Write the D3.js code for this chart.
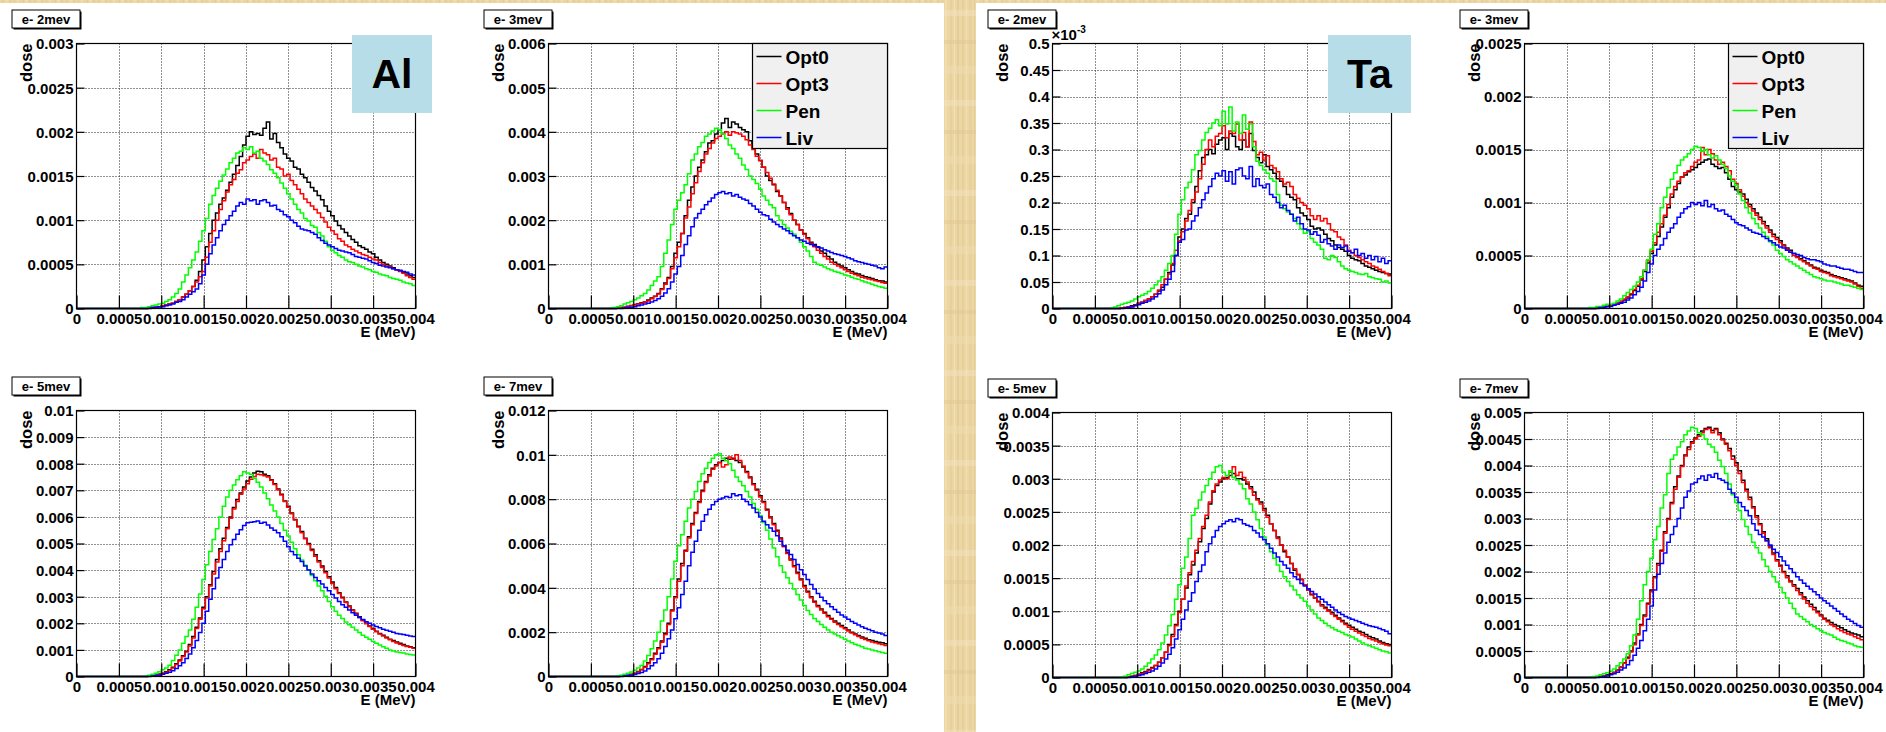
<!DOCTYPE html>
<html><head><meta charset="utf-8">
<script src="https://cdn.jsdelivr.net/npm/d3@7/dist/d3.min.js"></script>
<style>
html,body{margin:0;padding:0;background:#fff;}
svg{display:block;}
text{font-family:"Liberation Sans",Arial,Helvetica,sans-serif;font-weight:bold;fill:#000;}
</style></head><body>
<svg id="c" width="1886" height="732"></svg>
<script>
// ---------------- DATA ----------------
// Histograms: 100 bins over 0..0.004 MeV. Each array lists bin contents from the first
// non-empty bin up to the last bin (earlier bins are empty). Units given in panelUnits.
const seriesNames = ["Opt0", "Opt3", "Pen", "Liv"];
const xTickLabels = ["0","0.0005","0.001","0.0015","0.002","0.0025","0.003","0.0035","0.004"];
const panelTitles = ["e- 2mev","e- 3mev","e- 2mev","e- 3mev","e- 5mev","e- 7mev","e- 5mev","e- 7mev"];
const panelUnits  = [1e-5, 1e-5, 1e-6, 1e-5, 1e-5, 1e-5, 1e-5, 1e-5];
const yTickLabels = [
  ["0","0.0005","0.001","0.0015","0.002","0.0025","0.003"],
  ["0","0.001","0.002","0.003","0.004","0.005","0.006"],
  ["0","0.05","0.1","0.15","0.2","0.25","0.3","0.35","0.4","0.45","0.5"],
  ["0","0.0005","0.001","0.0015","0.002","0.0025"],
  ["0","0.001","0.002","0.003","0.004","0.005","0.006","0.007","0.008","0.009","0.01"],
  ["0","0.002","0.004","0.006","0.008","0.01","0.012"],
  ["0","0.0005","0.001","0.0015","0.002","0.0025","0.003","0.0035","0.004"],
  ["0","0.0005","0.001","0.0015","0.002","0.0025","0.003","0.0035","0.004","0.0045","0.005"]
];
const yLabelFactor = [1, 1, 1e-3, 1, 1, 1, 1, 1];
const panelTags = ["Al", null, "Ta", null, null, null, null, null];
const panelLegend = [false, true, false, true, false, false, false, false];

// Al, e- 2 MeV (x1e-5)
const al2_opt0 = [1,1,2,2,3,4,5,6,8,10,13,16,20,25,32,42,55,70,85,100,108,118,125,134,143,152,162,172,185,195,200,197,198,196,204,211,192,198,188,182,175,170,167,160,158,152,148,143,137,133,128,123,116,110,105,99,94,90,86,82,78,75,71,69,67,64,62,58,55,52,50,48,46,44,43,41,39,37,35];
const al2_opt3 = [1,1,2,2,3,4,5,6,8,10,13,16,20,25,30,36,42,58,75,88,100,112,122,132,140,146,153,157,165,168,172,175,170,180,176,174,168,170,160,158,150,152,145,140,135,130,124,120,116,112,108,103,98,92,88,84,79,76,72,70,67,65,63,61,60,58,56,55,52,50,48,47,45,44,42,40,37,35,33];
const al2_pen  = [1,1,2,3,4,5,6,8,10,13,17,22,30,38,46,55,64,76,88,102,118,128,136,144,151,158,165,170,176,178,182,180,183,176,178,170,167,163,157,153,148,142,136,130,124,118,112,108,102,99,94,92,86,82,76,70,66,63,60,58,55,53,52,50,48,47,45,44,42,41,39,38,37,35,34,33,32,30,29,28,26];
const al2_liv  = [1,1,2,2,3,4,5,7,8,10,13,16,19,22,28,38,50,62,72,80,88,95,100,105,110,116,120,118,124,122,123,118,122,123,120,116,117,112,110,106,104,100,97,93,90,89,88,86,84,80,77,74,72,70,68,66,65,64,63,61,59,58,57,56,54,52,51,49,48,47,46,45,44,43,42,41,39,38];

// Al, e- 3 MeV (x1e-5)
const al3_opt0 = [1,2,3,5,7,9,11,13,15,19,24,28,34,45,58,70,95,125,150,170,210,245,275,300,320,336,355,375,380,395,405,420,430,410,422,418,410,405,400,380,365,350,335,320,300,290,280,265,255,240,228,215,200,190,178,170,160,150,145,138,130,125,118,112,105,100,96,92,88,84,80,78,75,72,70,68,65,63,62,60];
const al3_opt3 = [1,2,3,4,6,8,10,12,14,17,22,27,33,43,55,68,90,115,140,170,205,230,260,285,310,330,350,362,375,385,390,395,400,392,400,398,395,390,382,370,360,345,335,320,308,295,282,268,255,240,225,212,200,190,178,168,158,148,140,132,125,118,112,105,100,96,92,88,84,80,77,74,71,69,67,65,63,61,59,57];
const al3_pen  = [1,2,4,6,10,13,16,20,24,29,34,42,52,62,72,95,125,155,190,225,245,262,280,305,336,350,366,376,390,395,402,408,405,395,385,370,362,350,340,325,315,300,292,283,270,255,245,235,228,210,200,190,182,175,168,160,150,140,130,118,105,100,98,94,90,87,84,82,79,76,74,71,68,66,63,60,58,55,52,50,48,46];
const al3_liv  = [1,2,3,4,6,8,10,12,15,18,22,28,35,45,60,78,95,120,145,165,185,205,215,225,235,242,250,258,262,265,260,262,255,258,252,248,245,238,232,225,218,212,210,202,196,190,185,180,176,170,165,160,155,152,148,145,142,140,137,133,130,127,124,122,120,118,115,112,108,106,104,102,100,98,96,92,90,94];

// Ta, e- 2 MeV (x1e-6)
const ta2_opt0 = [1,2,3,5,7,10,12,15,18,22,27,33,40,55,68,82,100,135,150,170,178,200,230,260,285,290,300,292,310,318,322,300,330,325,305,300,318,305,330,298,285,275,290,268,262,255,245,240,230,215,210,205,190,180,175,168,155,150,152,148,140,132,128,120,115,112,108,100,95,92,90,85,80,78,75,72,70,68,66,65];
const ta2_opt3 = [1,2,3,4,6,9,12,15,18,22,27,35,45,55,65,85,110,128,145,165,185,205,220,245,272,300,318,305,325,330,345,322,335,330,348,318,332,305,352,315,290,295,280,288,270,265,258,245,235,238,230,215,208,200,195,188,175,168,175,165,170,160,148,145,135,130,120,110,105,100,96,92,88,85,80,78,74,70,66,62];
const ta2_pen  = [1,3,5,8,10,12,14,18,22,25,28,32,38,45,52,60,72,85,100,140,178,205,228,238,262,290,298,318,332,340,350,356,345,372,348,380,335,352,330,365,338,348,305,278,270,262,255,245,240,215,195,188,182,178,170,160,150,142,145,132,125,120,112,95,92,100,96,88,80,75,72,70,68,65,64,66,60,58,56,55,50,52,48];
const ta2_liv  = [1,2,3,5,7,10,12,14,18,22,28,35,45,55,70,100,125,130,148,150,165,175,190,205,218,230,245,255,250,260,240,258,235,262,265,250,245,268,230,245,232,228,235,215,210,200,190,195,185,178,165,172,160,150,148,140,145,138,125,130,122,118,112,120,115,118,108,105,112,100,104,95,100,92,98,88,95,85,90];

// Ta, e- 3 MeV (x1e-5)
const ta3_opt0 = [1,1,2,2,3,4,5,6,8,10,13,17,21,27,35,43,52,60,68,77,86,95,105,112,118,124,126,129,131,133,136,138,140,141,136,134,132,133,128,122,115,112,110,108,103,98,94,90,86,82,78,74,70,67,64,60,57,55,52,49,47,45,43,41,39,38,36,35,34,32,31,30,29,28,27,26,24,22,21];
const ta3_opt3 = [1,1,2,2,3,4,5,7,9,11,14,18,22,28,36,45,54,62,72,80,88,98,108,115,120,124,128,130,134,138,140,152,145,150,146,140,136,138,134,130,122,118,112,106,100,96,92,88,84,80,76,72,68,65,62,59,56,53,50,48,46,44,42,40,38,37,35,34,33,31,30,29,28,27,26,25,23,21,19];
const ta3_pen  = [1,1,2,2,3,4,4,5,7,9,12,15,18,21,25,30,36,46,56,70,80,95,105,114,122,128,135,140,143,146,150,153,152,148,150,145,142,144,140,136,132,125,120,116,108,102,95,90,85,80,76,72,68,63,60,55,52,49,46,44,42,40,38,36,34,32,30,29,28,27,26,26,25,24,23,22,22,21,20,19,18];
const ta3_liv  = [1,1,2,2,3,4,5,6,8,10,13,16,20,26,34,42,50,56,60,66,72,76,80,86,90,94,96,100,98,100,97,102,96,98,94,92,93,89,87,84,81,79,78,76,74,72,71,70,68,66,64,62,60,58,57,55,53,52,51,50,48,47,46,46,45,44,42,41,40,40,39,38,37,37,36,35,34,34];

// Al, e- 5 MeV (x1e-5)
const al5_opt0 = [2,4,6,9,12,18,25,35,48,62,78,95,120,150,185,220,260,300,345,395,440,480,520,560,600,635,665,690,712,735,750,765,772,770,760,755,740,725,705,685,660,640,615,590,565,545,520,500,478,458,435,415,395,375,355,335,315,298,280,265,250,238,225,212,200,190,180,170,162,155,148,140,135,130,125,120,115,112,108];
const al5_opt3 = [2,3,5,8,11,16,23,32,45,58,75,92,115,145,180,215,255,295,340,385,430,470,510,555,595,630,658,685,705,725,742,752,760,758,755,750,738,722,702,682,658,636,612,588,562,540,518,496,474,452,430,410,390,370,350,330,312,295,278,262,248,235,222,210,198,188,178,168,160,152,145,138,132,126,121,117,113,110,106];
const al5_pen  = [2,5,8,12,18,25,32,42,60,80,100,125,150,175,215,260,310,365,420,470,515,555,600,640,675,700,720,740,755,770,765,760,745,730,712,690,668,645,622,600,575,550,528,505,480,458,438,418,400,380,360,340,322,302,282,262,245,230,218,205,195,185,175,165,155,148,140,132,125,118,112,106,100,96,92,90,88,85,83,81];
const al5_liv  = [2,3,5,8,12,16,22,30,40,52,68,85,108,135,165,200,245,290,330,370,410,440,470,495,515,535,552,568,578,580,582,585,576,580,570,558,550,540,525,508,488,470,458,445,432,415,400,385,372,360,348,335,322,308,295,282,270,260,250,240,230,222,214,206,200,194,188,183,178,174,170,166,162,160,158,155,152,150];

// Al, e- 7 MeV (x1e-5)
const al7_opt0 = [2,4,6,10,15,22,32,45,62,80,105,130,160,195,240,300,360,440,510,570,630,690,740,790,840,880,910,940,955,965,975,985,980,985,975,965,945,925,900,870,845,815,790,755,720,690,660,625,590,560,530,500,470,440,410,385,360,340,320,305,290,275,262,250,240,230,220,210,200,192,185,178,172,166,162,158,155,152,148];
const al7_opt3 = [2,3,5,9,14,20,30,42,58,76,100,125,155,190,235,295,355,430,500,565,625,685,735,785,835,875,905,935,950,965,945,955,990,980,1000,975,950,920,895,865,840,810,785,750,715,685,655,620,585,555,525,495,465,435,405,380,355,335,315,300,285,270,258,245,235,225,215,205,196,188,180,173,167,161,156,152,148,144,140];
const al7_pen  = [3,6,10,15,20,28,38,50,70,95,125,160,200,250,300,360,440,520,590,640,700,760,800,835,880,915,940,965,985,1000,1005,985,975,960,930,900,880,860,835,810,780,755,725,695,660,620,580,540,500,470,445,420,395,370,345,320,298,280,262,248,235,222,210,200,192,184,176,168,160,152,146,140,134,128,124,120,116,112,108,105];
const al7_liv  = [2,4,6,9,13,18,25,35,48,62,80,105,135,170,210,260,310,370,430,500,560,610,660,700,730,755,775,790,800,805,812,808,825,815,820,800,790,775,760,740,720,700,685,670,655,635,610,590,570,550,528,505,482,460,438,415,395,375,358,342,328,315,302,290,278,268,258,248,240,232,225,218,212,206,200,196,192,185];

// Ta, e- 5 MeV (x1e-5)
const ta5_opt0 = [1,2,3,5,7,9,12,15,18,23,30,38,50,65,80,100,118,135,155,170,188,205,225,240,262,280,290,295,300,302,305,308,300,300,298,292,288,280,270,265,255,245,232,222,212,200,190,182,172,162,155,148,140,132,125,120,115,110,106,102,98,94,90,86,82,79,76,73,70,68,65,62,60,58,55,53,51,50];
const ta5_opt3 = [1,2,3,4,6,8,11,14,18,23,30,38,48,62,78,98,118,138,158,175,192,210,228,245,265,282,292,298,302,300,310,318,305,310,302,295,285,275,268,262,252,242,232,222,210,200,192,182,172,164,156,148,140,132,126,120,114,108,104,100,96,92,88,84,80,76,73,70,67,64,62,59,57,55,53,51,49,48];
const ta5_pen  = [1,2,4,6,8,10,13,17,22,28,34,42,52,64,78,95,118,140,165,182,210,245,255,268,280,290,300,310,318,320,310,305,312,302,298,292,285,270,262,250,238,225,212,200,190,180,170,160,152,145,138,132,125,120,115,108,102,96,90,86,82,78,75,72,70,68,65,63,61,58,55,52,50,48,46,44,42,40,39,37];
const ta5_liv  = [1,2,3,4,6,8,10,13,17,22,28,35,45,58,72,88,102,115,128,145,160,170,190,202,212,222,228,232,236,238,235,240,238,232,230,228,222,218,212,208,202,195,188,182,175,170,165,158,152,148,142,138,134,130,126,122,118,114,110,106,102,98,95,92,90,88,86,84,82,80,78,77,76,74,72,70,66];

// Ta, e- 7 MeV (x1e-5)
const ta7_opt0 = [1,2,3,5,7,10,14,20,28,38,50,65,82,100,118,140,165,190,215,240,275,300,330,360,380,400,420,435,445,452,458,465,470,472,466,470,462,450,442,432,418,405,390,372,355,340,322,305,290,275,262,248,235,222,212,200,192,182,175,168,160,152,145,138,132,125,118,112,108,104,100,97,94,90,87,84,82,80,77];
const ta7_opt3 = [1,2,3,4,6,9,13,19,27,36,48,62,80,98,115,138,162,188,212,238,272,298,328,355,378,398,418,430,442,450,455,462,468,470,462,468,458,448,440,428,412,400,385,368,352,336,320,302,288,272,258,245,232,220,210,198,188,180,172,164,156,148,140,134,128,122,116,110,105,100,96,92,88,85,82,80,77,74,71];
const ta7_pen  = [1,2,3,5,7,9,12,16,22,28,35,45,60,80,110,145,175,200,225,260,285,320,345,385,412,420,435,445,458,465,472,470,462,458,450,440,435,425,410,398,385,365,345,330,315,298,285,270,255,245,235,222,210,200,190,180,170,160,150,140,130,120,115,110,105,100,96,92,88,85,82,80,76,72,70,68,65,63,60,58,57];
const ta7_liv  = [1,2,3,5,7,10,14,18,24,32,42,55,70,88,110,135,165,195,215,235,255,270,285,300,320,340,352,365,368,375,380,372,382,378,385,375,372,368,355,348,340,330,322,315,305,290,278,270,265,258,250,242,236,228,220,212,205,198,190,184,178,172,167,162,156,150,145,140,135,130,125,120,115,110,106,102,98,95];

const panelSeries = [
  [al2_opt0, al2_opt3, al2_pen, al2_liv],
  [al3_opt0, al3_opt3, al3_pen, al3_liv],
  [ta2_opt0, ta2_opt3, ta2_pen, ta2_liv],
  [ta3_opt0, ta3_opt3, ta3_pen, ta3_liv],
  [al5_opt0, al5_opt3, al5_pen, al5_liv],
  [al7_opt0, al7_opt3, al7_pen, al7_liv],
  [ta5_opt0, ta5_opt3, ta5_pen, ta5_liv],
  [ta7_opt0, ta7_opt3, ta7_pen, ta7_liv]
];
const nBins = 100;
const xMax = 0.004;

// ---------------- LAYOUT / STYLE ----------------
const seriesColors = ["#000000", "#ff0000", "#00ff00", "#0000ff"];
const frames = [
  {l:76.5,  r:415.5,  t:43.5,  b:308.5},
  {l:548.5, r:887.5,  t:43.5,  b:308.5},
  {l:1052.5,r:1391.5, t:43.5,  b:308.5},
  {l:1524.5,r:1863.5, t:43.5,  b:308.5},
  {l:76.5,  r:415.5,  t:410.5, b:676.5},
  {l:548.5, r:887.5,  t:410.5, b:676.5},
  {l:1052.5,r:1391.5, t:412.5, b:677.5},
  {l:1524.5,r:1863.5, t:412.5, b:677.5}
];

const svg = d3.select("#c");
const defs = svg.append("defs");
const pat = defs.append("pattern").attr("id","wood").attr("patternUnits","userSpaceOnUse")
  .attr("width",32).attr("height",90);
pat.append("rect").attr("width",32).attr("height",90).attr("fill","#ebd6a4");
[[2,2,"#e2c993"],[6,1,"#f3e4bf"],[9,3,"#e5cd98"],[14,1,"#dfc58d"],[17,2,"#f1e0b6"],[22,2,"#e4cb95"],[26,1,"#f4e6c3"],[29,2,"#e0c68f"]]
  .forEach(s => pat.append("rect").attr("x",s[0]).attr("y",0).attr("width",s[1]).attr("height",90).attr("fill",s[2]).attr("opacity",0.6));
[[10,6,"#f4e6c2"],[40,4,"#e0c68e"],[66,8,"#f0dfb3"]]
  .forEach(s => pat.append("rect").attr("x",0).attr("y",s[0]).attr("width",32).attr("height",s[1]).attr("fill",s[2]).attr("opacity",0.4));

svg.append("rect").attr("x",0).attr("y",0).attr("width",1886).attr("height",732).attr("fill","#fff");
svg.append("rect").attr("x",0).attr("y",0).attr("width",1886).attr("height",3).attr("fill","url(#wood)");
svg.append("rect").attr("x",944).attr("y",0).attr("width",32).attr("height",732).attr("fill","url(#wood)");

const xTicks = xTickLabels.map(Number);

panelSeries.forEach((series, p) => {
  const f = frames[p];
  const yLabels = yTickLabels[p];
  const yTicks = yLabels.map(s => Number(s) * yLabelFactor[p]);
  const yMax = yTicks[yTicks.length - 1];
  const x = d3.scaleLinear().domain([0, xMax]).range([f.l, f.r]);
  const y = d3.scaleLinear().domain([0, yMax]).range([f.b, f.t]);
  const g = svg.append("g");

  // grid
  const grid = g.append("g").attr("stroke","#222").attr("stroke-width",1).attr("stroke-dasharray","1 2");
  xTicks.slice(1, -1).forEach(v => grid.append("line").attr("x1",Math.round(x(v))+0.5).attr("x2",Math.round(x(v))+0.5).attr("y1",f.t).attr("y2",f.b));
  yTicks.slice(1, -1).forEach(v => grid.append("line").attr("x1",f.l).attr("x2",f.r).attr("y1",Math.round(y(v))+0.5).attr("y2",Math.round(y(v))+0.5));

  // histograms
  const binW = xMax / nBins;
  const line = d3.line().x(d => x(d[0])).y(d => y(d[1]));
  series.forEach((vals, s) => {
    const start = nBins - vals.length;
    const pts = [[0, 0], [start * binW, 0]];
    vals.forEach((v, k) => {
      const e = (start + k) * binW;
      pts.push([e, v * panelUnits[p]], [e + binW, v * panelUnits[p]]);
    });
    g.append("path").attr("d", line(pts)).attr("fill","none")
      .attr("stroke", seriesColors[s]).attr("stroke-width",1.5).attr("stroke-linejoin","miter");
  });

  // frame
  g.append("rect").attr("x",f.l).attr("y",f.t).attr("width",f.r-f.l).attr("height",f.b-f.t)
    .attr("fill","none").attr("stroke","#000").attr("stroke-width",1.2);

  // axes via d3
  const xAxis = d3.axisBottom(x).tickValues(xTicks).tickSize(-13).tickPadding(17)
    .tickFormat((d,i) => xTickLabels[i]);
  const xa = g.append("g").attr("transform",`translate(0,${f.b})`).call(xAxis);
  xa.select(".domain").remove();
  xa.selectAll("line").attr("stroke","#000").attr("stroke-width",1.2);
  xa.selectAll("text").attr("font-size",15).attr("font-family","Liberation Sans, Arial, sans-serif")
    .attr("font-weight","bold").attr("fill","#000").attr("dy","0").attr("y",15);

  const yAxis = d3.axisLeft(y).tickValues(yTicks).tickSize(-8).tickPadding(4)
    .tickFormat((d,i) => yLabels[i]);
  const ya = g.append("g").attr("transform",`translate(${f.l},0)`).call(yAxis);
  ya.select(".domain").remove();
  ya.selectAll("line").attr("stroke","#000").attr("stroke-width",1.2);
  ya.selectAll("text").attr("font-size",15).attr("font-family","Liberation Sans, Arial, sans-serif")
    .attr("font-weight","bold").attr("fill","#000").attr("x",-3).attr("dy","0.36em");

  // axis titles
  g.append("text").attr("x",f.r).attr("y",f.b+28).attr("text-anchor","end").attr("font-size",15).text("E (MeV)");
  g.append("text").attr("transform",`translate(${f.l-45},${f.t}) rotate(-90)`).attr("text-anchor","end")
    .attr("font-size",16.5).text("dose");

  if (yLabelFactor[p] !== 1) {
    const t = g.append("text").attr("x",f.l-1).attr("y",f.t-4).attr("font-size",15).attr("font-weight","normal");
    t.append("tspan").text("\u00d710");
    t.append("tspan").attr("font-size",10).attr("dy",-7).text("-3");
  }

  // title box
  const tb = {x: f.l - 64.5, y: f.t - 33.5, w: 68, h: 18};
  g.append("rect").attr("x",tb.x+1.5).attr("y",tb.y+1.5).attr("width",tb.w).attr("height",tb.h).attr("fill","#000");
  g.append("rect").attr("x",tb.x).attr("y",tb.y).attr("width",tb.w).attr("height",tb.h)
    .attr("fill","#fff").attr("stroke","#000").attr("stroke-width",1);
  g.append("text").attr("x",tb.x+tb.w/2).attr("y",tb.y+13.5).attr("text-anchor","middle").attr("font-size",13).text(panelTitles[p]);

  // legend
  if (panelLegend[p]) {
    const lw = 135, lh = 105, lx = f.r - lw, ly = f.t;
    g.append("rect").attr("x",lx).attr("y",ly).attr("width",lw).attr("height",lh)
      .attr("fill","#f0f0f0").attr("stroke","#000").attr("stroke-width",1.2);
    seriesNames.forEach((n, i) => {
      const cy = ly + 13 + i * 27;
      g.append("line").attr("x1",lx+4).attr("x2",lx+29).attr("y1",cy).attr("y2",cy)
        .attr("stroke",seriesColors[i]).attr("stroke-width",1.5);
      g.append("text").attr("x",lx+33).attr("y",cy+7).attr("font-size",19).text(n);
    });
  }

  // material tag
  if (panelTags[p]) {
    const bx = p === 0 ? 352 : 1328, bw = p === 0 ? 80 : 83;
    svg.append("rect").attr("x",bx).attr("y",35).attr("width",bw).attr("height",78).attr("fill","#b7dde8");
    svg.append("text").attr("x",bx+bw/2).attr("y",88).attr("text-anchor","middle")
      .attr("font-family","Lato, 'Open Sans', sans-serif").attr("font-weight","bold")
      .attr("font-size",41).text(panelTags[p]);
  }
});
</script>
</body></html>
